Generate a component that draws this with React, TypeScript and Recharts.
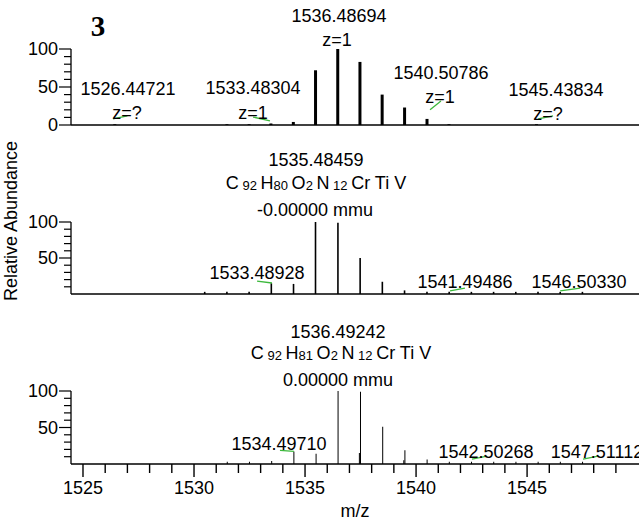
import React from 'react';
import { ComposedChart, Bar, XAxis, YAxis, ReferenceLine } from 'recharts';

const W = 639;
const H = 523;
const FONT = '"Liberation Sans", Arial, sans-serif';
const MZ_DOMAIN: [number, number] = [1524.46, 1550.04];

// measured spectrum (top)
const measuredMz = [1526.45, 1531.5, 1532.5, 1533.48, 1534.49, 1535.49, 1536.49, 1537.49, 1538.49, 1539.5, 1540.51, 1541.5, 1545.44];
const measuredInt = [1, 1, 1, 2, 4, 72, 100, 83, 40, 23, 8, 1, 1];

// simulated C92H80O2N12CrTiV (middle)
const sim1Mz = [1530.49, 1531.49, 1532.49, 1533.49, 1534.49, 1535.48, 1536.49, 1537.49, 1538.49, 1539.49, 1540.5, 1541.5, 1542.5, 1543.5, 1544.5, 1545.5, 1546.5, 1547.5];
const sim1Int = [3, 3, 3, 15, 14, 100, 99, 50, 17, 5, 3, 3, 3, 3, 3, 3, 3, 3];

// simulated C92H81O2N12CrTiV (bottom)
const sim2Mz = [1531.5, 1532.5, 1533.5, 1534.5, 1535.5, 1536.49, 1537.45, 1537.5, 1538.5, 1539.45, 1539.5, 1540.5, 1541.5, 1542.5, 1543.5, 1544.5, 1545.5, 1546.5, 1547.5];
const sim2Int = [3, 3, 4, 17, 14, 100, 15, 99, 51, 5, 19, 6, 3, 3, 3, 3, 3, 3, 3];

const mzTicks = [1525, 1526, 1527, 1528, 1529, 1530, 1531, 1532, 1533, 1534, 1535, 1536, 1537, 1538, 1539, 1540, 1541, 1542, 1543, 1544, 1545, 1546, 1547, 1548, 1549];
const topYTicks = [0, 10, 20, 30, 40, 50, 60, 70, 80, 90, 100];
const simYTicks = [10, 20, 30, 40, 50, 60, 70, 80, 90, 100];

// green leader lines [x1, y1, x2, y2] in data units
const measuredLeaders = [
  [1526.35, 8, 1527.0, 12],
  [1532.66, 10.5, 1533.42, 5.3],
  [1540.63, 20, 1541.12, 31.5],
  [1545.5, 8, 1546.17, 12],
];
const sim1Leaders = [
  [1532.84, 18, 1533.51, 15.3],
  [1541.53, 4.2, 1542.2, 8.3],
  [1546.49, 4.2, 1547.39, 8.3],
];
const sim2Leaders = [
  [1533.87, 18.7, 1534.5, 17.3],
  [1542.52, 6.7, 1543.2, 10.7],
  [1547.52, 6.7, 1548.2, 10.7],
];

const toRows = (mz: number[], val: number[]) => mz.map((m, i) => ({ mz: m, intensity: val[i] }));

// tick line of 7px comes from the axis, majors get a longer line and a label
const YTick = ({ x, y, payload }: any) => {
  if (payload.value % 50 !== 0) return <g />;
  return (
    <g>
      <line x1={x - 5} x2={x} y1={y} y2={y} stroke="#000" strokeWidth={1.2} />
      <text x={x - 6} y={y} textAnchor="end" dominantBaseline="central" fontFamily={FONT} fontSize={18} fill="#000">
        {payload.value}
      </text>
    </g>
  );
};

const XTick = ({ x, y, payload }: any) => {
  if (payload.value % 5 !== 0) return <g />;
  return (
    <g>
      <line x1={x} x2={x} y1={y} y2={y + 4} stroke="#000" strokeWidth={1.4} />
      <text x={x} y={y + 15} textAnchor="middle" dominantBaseline="central" fontFamily={FONT} fontSize={18} fill="#000">
        {payload.value}
      </text>
    </g>
  );
};

function Panel({ rows, top, bottom, yTicks, leaders, barSize, showX }: any) {
  const xHeight = showX ? 40 : 1;
  return (
    <div style={{ position: 'absolute', left: 0, top: 0 }}>
      <ComposedChart
        width={W}
        height={H}
        data={rows}
        margin={{ top, right: 0, left: 0, bottom: H - bottom - xHeight }}
        barGap={0}
      >
        <XAxis
          dataKey="mz"
          type="number"
          domain={MZ_DOMAIN}
          allowDataOverflow
          ticks={showX ? mzTicks : undefined}
          interval={0}
          height={xHeight}
          tickSize={showX ? 9 : 0}
          tickMargin={0}
          tickLine={showX ? { stroke: '#000', strokeWidth: 1.4 } : false}
          tick={showX ? <XTick /> : false}
          axisLine={{ stroke: '#000', strokeWidth: 1.6 }}
        />
        <YAxis
          type="number"
          domain={[0, 100]}
          allowDataOverflow
          ticks={yTicks}
          interval={0}
          width={71}
          tickSize={7}
          tickMargin={0}
          tickLine={{ stroke: '#000', strokeWidth: 1.2 }}
          tick={<YTick />}
          axisLine={{ stroke: '#000', strokeWidth: 1.3 }}
        />
        <Bar dataKey="intensity" fill="#000" barSize={barSize} isAnimationActive={false} />
        {leaders.map((l: number[], i: number) => (
          <ReferenceLine
            key={i}
            segment={[{ x: l[0], y: l[1] }, { x: l[2], y: l[3] }]}
            stroke="#3cb83c"
            strokeWidth={1.3}
            ifOverflow="visible"
          />
        ))}
      </ComposedChart>
    </div>
  );
}

const T = ({ x, y, children, size = 18 }: any) => (
  <text x={x} y={y} textAnchor="middle" dominantBaseline="central" fontFamily={FONT} fontSize={size} fill="#000">
    {children}
  </text>
);

const Formula = ({ x, y, h }: any) => (
  <text x={x} y={y} textAnchor="middle" dominantBaseline="central" fontFamily={FONT} fontSize={18} fill="#000">
    C<tspan fontSize={13} dy={2}> 92 </tspan>
    <tspan dy={-2}>H</tspan><tspan fontSize={13} dy={2}>{h} </tspan>
    <tspan dy={-2}>O</tspan><tspan fontSize={13} dy={2}>2 </tspan>
    <tspan dy={-2}>N</tspan><tspan fontSize={13} dy={2}> 12 </tspan>
    <tspan dy={-2}>Cr Ti V</tspan>
  </text>
);

export default function App() {
  return (
    <div style={{ position: 'absolute', left: 0, top: 0, width: W, height: H, background: '#fff', overflow: 'hidden' }}>
      <Panel rows={toRows(measuredMz, measuredInt)} top={49} bottom={125} yTicks={topYTicks} leaders={measuredLeaders} barSize={3} showX={false} />
      <Panel rows={toRows(sim1Mz, sim1Int)} top={222} bottom={294} yTicks={simYTicks} leaders={sim1Leaders} barSize={1.6} showX={false} />
      <Panel rows={toRows(sim2Mz, sim2Int)} top={391} bottom={464} yTicks={simYTicks} leaders={sim2Leaders} barSize={1.6} showX={true} />
      <svg width={W} height={H} style={{ position: 'absolute', left: 0, top: 0, pointerEvents: 'none' }}>
        <text x={98} y={26} textAnchor="middle" dominantBaseline="central" fontFamily='"Liberation Serif", serif' fontWeight="bold" fontSize={29} fill="#000">3</text>
        <T x={339} y={16}>1536.48694</T>
        <T x={337} y={40}>z=1</T>
        <T x={128} y={89}>1526.44721</T>
        <T x={127} y={113}>z=?</T>
        <T x={253} y={88}>1533.48304</T>
        <T x={253} y={113}>z=1</T>
        <T x={441} y={73}>1540.50786</T>
        <T x={440} y={97}>z=1</T>
        <T x={556} y={90}>1545.43834</T>
        <T x={548} y={114}>z=?</T>

        <T x={316} y={160}>1535.48459</T>
        <Formula x={316} y={183} h="80" />
        <T x={315} y={210}>-0.00000 mmu</T>
        <T x={257} y={273}>1533.48928</T>
        <T x={465} y={282}>1541.49486</T>
        <T x={579} y={282}>1546.50330</T>

        <text x={11} y={221} transform="rotate(-90 11 221)" textAnchor="middle" dominantBaseline="central" fontFamily={FONT} fontSize={18} fill="#000">Relative Abundance</text>

        <T x={338} y={332}>1536.49242</T>
        <Formula x={341} y={353} h="81" />
        <T x={338} y={380}>0.00000 mmu</T>
        <T x={279} y={444}>1534.49710</T>
        <T x={486} y={452}>1542.50268</T>
        <T x={597} y={452}>1547.51112</T>
        <T x={355} y={511}>m/z</T>
      </svg>
    </div>
  );
}
